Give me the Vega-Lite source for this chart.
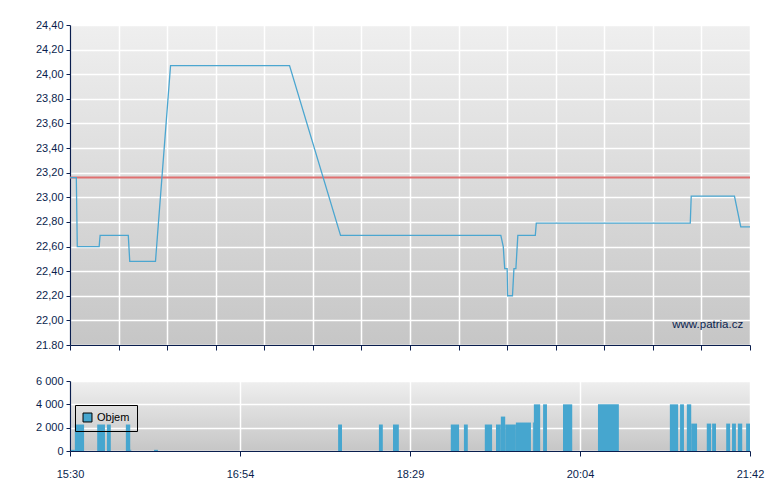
{
  "$schema": "https://vega.github.io/schema/vega-lite/v6.json",
  "background": "white",
  "padding": {"left": 35, "top": 19, "right": 5, "bottom": 5},
  "spacing": 24,
  "datasets": {
    "price": [
      {"x": 0, "price": 23.16}, {"x": 0.13, "price": 23.16}, {"x": 0.15, "price": 22.6},
      {"x": 0.6, "price": 22.6}, {"x": 0.62, "price": 22.69}, {"x": 1.2, "price": 22.69},
      {"x": 1.23, "price": 22.48}, {"x": 1.76, "price": 22.48}, {"x": 2.07, "price": 24.07},
      {"x": 4.52, "price": 24.07}, {"x": 5.57, "price": 22.69}, {"x": 8.87, "price": 22.69},
      {"x": 8.92, "price": 22.6}, {"x": 8.95, "price": 22.42}, {"x": 9.0, "price": 22.42},
      {"x": 9.01, "price": 22.2}, {"x": 9.11, "price": 22.2}, {"x": 9.14, "price": 22.42},
      {"x": 9.18, "price": 22.42}, {"x": 9.22, "price": 22.69}, {"x": 9.58, "price": 22.69},
      {"x": 9.6, "price": 22.79}, {"x": 12.77, "price": 22.79}, {"x": 12.79, "price": 23.01},
      {"x": 13.68, "price": 23.01}, {"x": 13.81, "price": 22.76}, {"x": 14, "price": 22.76}
    ],
    "reference": [{"prev": 23.16, "label": "www.patria.cz", "lx": 13.86, "ly": 21.94}],
    "volume": [
      {"x": 0.02, "x2": 0.1, "vol": 100}, {"x": 0.1, "x2": 0.29, "vol": 2270},
      {"x": 0.56, "x2": 0.72, "vol": 2270}, {"x": 0.76, "x2": 0.84, "vol": 2270},
      {"x": 1.15, "x2": 1.24, "vol": 2270}, {"x": 1.24, "x2": 1.26, "vol": 100},
      {"x": 1.73, "x2": 1.81, "vol": 100}, {"x": 5.52, "x2": 5.6, "vol": 2270},
      {"x": 6.36, "x2": 6.44, "vol": 2270}, {"x": 6.65, "x2": 6.77, "vol": 2270},
      {"x": 7.84, "x2": 8.01, "vol": 2270}, {"x": 8.11, "x2": 8.19, "vol": 2270},
      {"x": 8.54, "x2": 8.69, "vol": 2270}, {"x": 8.77, "x2": 8.87, "vol": 2270},
      {"x": 8.87, "x2": 8.96, "vol": 2950}, {"x": 8.96, "x2": 9.18, "vol": 2270},
      {"x": 9.18, "x2": 9.49, "vol": 2440}, {"x": 9.53, "x2": 9.55, "vol": 2440},
      {"x": 9.55, "x2": 9.68, "vol": 4000}, {"x": 9.74, "x2": 9.82, "vol": 4000},
      {"x": 10.15, "x2": 10.34, "vol": 4000}, {"x": 10.87, "x2": 11.3, "vol": 4000},
      {"x": 12.35, "x2": 12.52, "vol": 4000}, {"x": 12.56, "x2": 12.64, "vol": 4000},
      {"x": 12.7, "x2": 12.79, "vol": 4000}, {"x": 12.79, "x2": 12.91, "vol": 2350},
      {"x": 13.11, "x2": 13.2, "vol": 2350}, {"x": 13.22, "x2": 13.3, "vol": 2350},
      {"x": 13.51, "x2": 13.59, "vol": 2350}, {"x": 13.63, "x2": 13.71, "vol": 2350},
      {"x": 13.75, "x2": 13.84, "vol": 2350}, {"x": 13.92, "x2": 14.0, "vol": 2350}
    ]
  },
  "vconcat": [
    {
      "width": 680,
      "height": 320,
      "encoding": {
        "x": {
          "type": "quantitative",
          "scale": {"domain": [0, 14], "nice": false, "zero": false},
          "axis": {
            "values": [0,1,2,3,4,5,6,7,8,9,10,11,12,13,14],
            "labels": false, "title": null, "tickSize": 5,
            "grid": true
          }
        },
        "y": {
          "type": "quantitative",
          "scale": {"domain": [21.8, 24.4], "nice": false, "zero": false},
          "axis": {
            "values": [21.8,22.0,22.2,22.4,22.6,22.8,23.0,23.2,23.4,23.6,23.8,24.0,24.2,24.4],
            "title": null, "tickSize": 4, "labelPadding": 3, "grid": true,
            "labelOverlap": false, "labelFlush": false, "labelBound": false,
            "labelExpr": "datum.value < 21.9 ? '21.80' : replace(format(datum.value, '.2f'), '.', ',')"
          }
        }
      },
      "layer": [
        {
          "data": {"name": "reference"},
          "mark": {"type": "rule", "color": "#e07070", "strokeWidth": 2, "opacity": 1},
          "encoding": {"y": {"field": "prev"}}
        },
        {
          "data": {"name": "price"},
          "mark": {"type": "line", "color": "#4ba6d0", "strokeWidth": 1.3},
          "encoding": {
            "x": {"field": "x"},
            "y": {"field": "price"}
          }
        },
        {
          "data": {"name": "reference"},
          "mark": {"type": "text", "align": "right", "baseline": "alphabetic", "font": "Liberation Sans", "fontSize": 11.5, "color": "#0a1e4e"},
          "encoding": {
            "x": {"field": "lx"},
            "y": {"field": "ly"},
            "text": {"field": "label"}
          }
        }
      ]
    },
    {
      "width": 680,
      "height": 70,
      "data": {"name": "volume"},
      "mark": {"type": "rect"},
      "encoding": {
        "x": {
          "field": "x", "type": "quantitative",
          "scale": {"domain": [0, 14], "nice": false, "zero": false},
          "axis": {
            "values": [0, 3.5, 7, 10.5, 14], "title": null, "tickSize": 5, "labelPadding": 12,
            "grid": true, "labelOverlap": false, "labelFlush": false, "labelBound": false,
            "labelExpr": "datum.value == 0 ? '15:30' : datum.value == 3.5 ? '16:54' : datum.value == 7 ? '18:29' : datum.value == 10.5 ? '20:04' : '21:42'"
          }
        },
        "x2": {"field": "x2"},
        "y": {
          "field": "vol", "type": "quantitative",
          "scale": {"domain": [0, 6000], "nice": false},
          "axis": {
            "values": [0, 2000, 4000, 6000], "title": null, "tickSize": 4, "labelPadding": 3, "grid": true,
            "labelOverlap": false, "labelFlush": false, "labelBound": false,
            "labelExpr": "replace(format(datum.value, ',d'), ',', ' ')"
          }
        },
        "color": {
          "datum": "Objem",
          "scale": {"range": ["#46a6cf"]},
          "legend": {
            "title": null, "orient": "none", "legendX": 5, "legendY": 380,
            "symbolType": "square", "symbolSize": 80, "symbolStrokeColor": "black", "symbolStrokeWidth": 1,
            "symbolOpacity": 1,
            "labelFont": "Liberation Sans", "labelFontSize": 11, "labelColor": "black",
            "strokeColor": "black", "padding": 7, "labelOffset": 4
          }
        }
      }
    }
  ],
  "config": {
    "view": {
      "stroke": null,
      "fill": {"gradient": "linear", "x1": 0, "y1": 0, "x2": 0, "y2": 1,
        "stops": [{"offset": 0, "color": "#efefef"}, {"offset": 1, "color": "#c6c6c6"}]}
    },
    "axis": {
      "labelFont": "Liberation Sans", "labelFontSize": 11, "labelColor": "#0a1e4e",
      "domainColor": "#0a1e4e", "tickColor": "#0a1e4e", "domainWidth": 1.2,
      "gridColor": "white", "gridWidth": 1.5, "gridOpacity": 1,
      "labelFlush": false, "labelOverlap": false, "ticks": true
    }
  }
}
